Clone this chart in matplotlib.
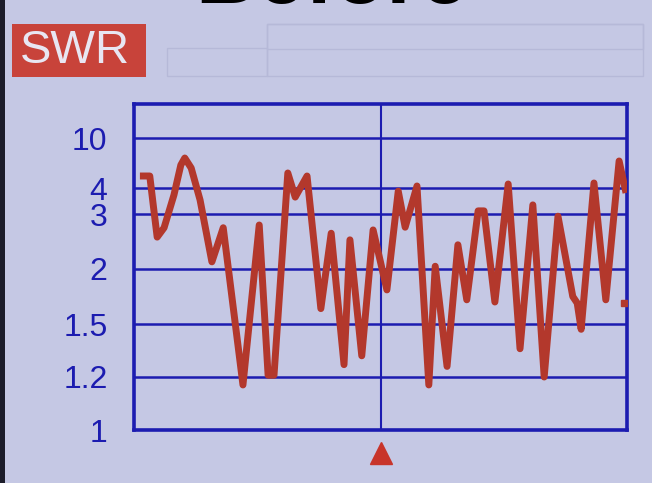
import numpy as np
import matplotlib
matplotlib.use("Agg")
import matplotlib.pyplot as plt
from matplotlib.patches import Rectangle

# ---- data ----
sweep_pos = [1.2, 3.2, 3.9, 4.7, 6.1, 8.1, 9.5, 10.3, 11.6, 13.4,
             15.8, 18.1, 22.1, 25.4, 27.2, 28.4,
             31.2, 32.7, 35.1, 37.1, 37.9, 40.0, 42.6, 43.8, 46.2, 48.5,
             51.3, 53.6, 55.0, 57.4, 59.8, 61.1, 63.5, 65.7, 67.5, 69.8,
             71.0, 73.2, 75.9, 78.3, 80.9, 83.2, 86.0, 89.0, 89.9, 90.7,
             93.3, 95.7, 98.4, 99.8]
swr_values = [5.44, 5.44, 3.35, 2.58, 2.75, 3.73, 6.76, 7.6, 6.4, 3.54,
              2.13, 2.75, 1.17, 2.8, 1.21, 1.21,
              5.8, 3.65, 5.44, 1.99, 1.64, 2.65, 1.27, 2.53, 1.32, 2.71,
              1.81, 3.88, 2.76, 4.24, 1.17, 2.05, 1.26, 2.44, 1.72, 3.12,
              3.12, 1.70, 4.48, 1.36, 3.35, 1.2, 2.96, 1.75, 1.69, 1.47,
              4.6, 1.72, 7.24, 3.81]
last_pos = [99.4]
last_swr = [1.69]
center_pos = 50
tick_values = [1, 1.2, 1.5, 2, 3, 4, 10]
tick_labels = ["1", "1.2", "1.5", "2", "3", "4", "10"]
# meter's non-linear SWR scale (value -> relative screen height)
scale_swr = [1, 1.2, 1.5, 2, 3, 4, 10, 20]
scale_pos = [0, 53, 106, 161, 216, 242, 292, 375]

BG = "#c5c8e4"
BLUE = "#1c1cb0"
RED = "#b3382c"

fig = plt.figure(figsize=(6.52, 4.83), dpi=100)
fig.patch.set_facecolor(BG)

# dark photo edge on the left
fig.add_artist(Rectangle((0, 0), 5 / 652, 1, transform=fig.transFigure,
                         facecolor="#1c1c2a", edgecolor="none"))

# faint empty header panels
for (x0, y0, x1, y1) in [(167, 48, 267, 76), (267, 24, 643, 76), (267, 24, 643, 49)]:
    fig.add_artist(Rectangle((x0 / 652, 1 - y1 / 483), (x1 - x0) / 652, (y1 - y0) / 483,
                             transform=fig.transFigure, facecolor="none",
                             edgecolor="#b6b9d8", lw=1.0))

# SWR title box
fig.add_artist(Rectangle((12 / 652, 1 - 77 / 483), 134 / 652, 53 / 483,
                         transform=fig.transFigure, facecolor="#c8433a",
                         edgecolor="none"))
fig.text(75 / 652, 1 - 51 / 483, "SWR", color="#e8e6f2", fontsize=34,
         family="Liberation Sans", ha="center", va="center")

# cut-off caption at the very top
fig.text(332 / 652, 1 - 3 / 483, "Before", color="black", fontsize=62,
         family="Liberation Sans", weight="bold", ha="center", va="baseline")

ax = fig.add_axes([134 / 652, 53 / 483, 493 / 652, 326 / 483])
ax.set_facecolor("none")


def fwd(v):
    return np.interp(v, scale_swr, scale_pos)


def inv(p):
    return np.interp(p, scale_pos, scale_swr)


ax.set_yscale("function", functions=(fwd, inv))
ax.set_xlim(0, 100)
ax.set_ylim(1, inv(326))

ax.set_yticks(tick_values)
ax.set_yticklabels(tick_labels)
ax.set_xticks([])
ax.tick_params(axis="y", length=0, pad=19, labelcolor=BLUE, labelsize=23)
for lab in ax.get_yticklabels():
    lab.set_family("Liberation Sans")

ax.grid(axis="y", color=BLUE, lw=1.8)
ax.axvline(center_pos, color=BLUE, lw=1.5)
for s in ax.spines.values():
    s.set_color(BLUE)
    s.set_linewidth(2.6)

ax.plot(sweep_pos, swr_values, color=RED, lw=5, solid_joinstyle="round",
        solid_capstyle="butt", zorder=3)
ax.plot(last_pos, last_swr, ls="none", marker="s", ms=4, color=RED, zorder=3)

# center-frequency marker below the plot
ax.plot([center_pos], [-0.07], marker="^", ms=16, color="#c8342a",
        transform=ax.get_xaxis_transform(), clip_on=False, ls="none")

fig.savefig("out.png", dpi=100, facecolor=fig.get_facecolor())
